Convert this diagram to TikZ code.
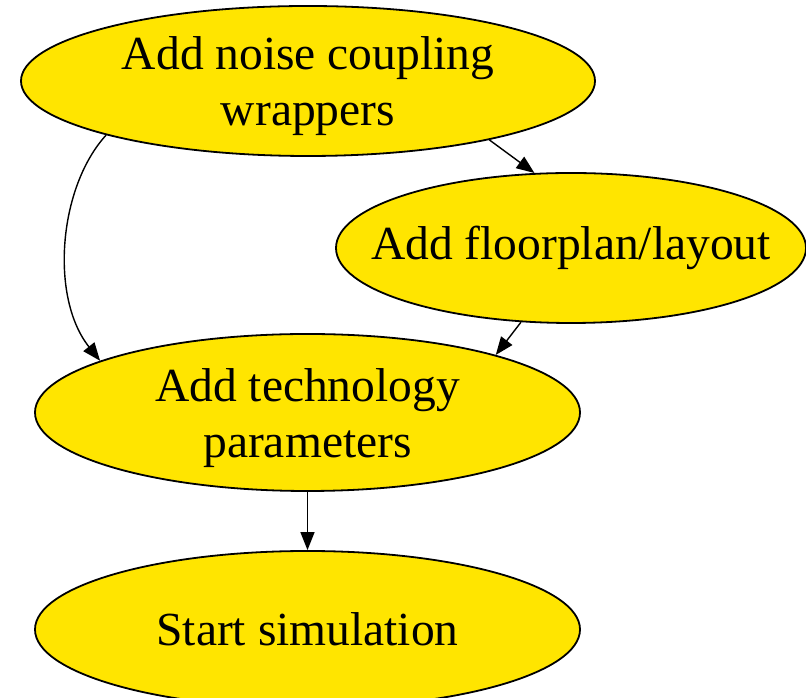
\documentclass[tikz,border=0pt]{standalone}
\usepackage{fontspec}
\setmainfont{Liberation Serif}
\usetikzlibrary{shapes}
\usetikzlibrary{arrows.meta}
\definecolor{flowyellow}{RGB}{255,229,0}
\newcommand{\firstline}{\rule{0pt}{44pt}}

\begin{document}
\begin{tikzpicture}[x=1pt,y=1pt]
		\tikzstyle{stage}=[ellipse,draw,line width=1.8pt,fill=flowyellow,inner xsep=-60pt,inner ysep=-20pt,align=center,font=\fontsize{47.5}{56}\selectfont]
		\tikzstyle{flow}=[line width=1.4pt,-{Triangle[length=18pt,width=14pt]}]
		\useasboundingbox (0,0) rectangle (806,698);
		
		\node[stage,minimum width=574pt,minimum height=150pt](wrap) at (308,617) {\firstline Add noise coupling\\wrappers};
		\node[stage,minimum width=470pt,minimum height=150pt](floor) at (571,450) {Add floorplan/layout};
		\node[stage,minimum width=545pt,minimum height=157pt](tech) at (307.5,285.5) {\firstline Add technology\\parameters};
		\node[stage,minimum width=545pt,minimum height=157pt](sim) at (307.5,68.5) {Start simulation};
		
		\draw[flow] (wrap.-18.7) -- (floor.116.6);
		\draw[flow] (floor.-124.6) -- (tech.17.9);
		\draw[flow] (wrap.-165.3) .. controls (58,510) and (50,400) .. (tech.166.4);
		\draw[flow] (tech) -- (sim);
		\end{tikzpicture}
\end{document}
